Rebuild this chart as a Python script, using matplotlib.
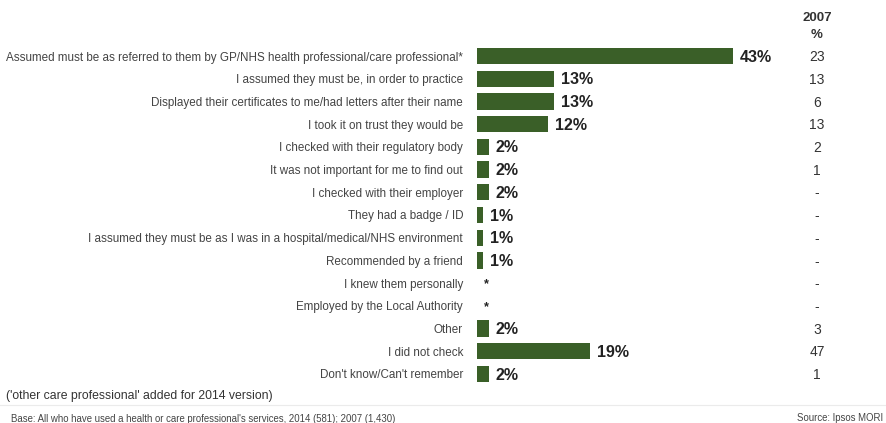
import numpy as np
import matplotlib
matplotlib.use("Agg")
import matplotlib.pyplot as plt
from matplotlib.transforms import blended_transform_factory, offset_copy

plt.rcParams['font.family'] = ['Liberation Sans', 'DejaVu Sans']

categories = [
    "Assumed must be as referred to them by GP/NHS health professional/care professional*",
    "I assumed they must be, in order to practice",
    "Displayed their certificates to me/had letters after their name",
    "I took it on trust they would be",
    "I checked with their regulatory body",
    "It was not important for me to find out",
    "I checked with their employer",
    "They had a badge / ID",
    "I assumed they must be as I was in a hospital/medical/NHS environment",
    "Recommended by a friend",
    "I knew them personally",
    "Employed by the Local Authority",
    "Other",
    "I did not check",
    "Don't know/Can't remember",
]
# 2014 shares (%); nan marks values below 0.5% shown as "*"
values_2014 = [43, 13, 13, 12, 2, 2, 2, 1, 1, 1, np.nan, np.nan, 2, 19, 2]
labels_2007 = ["23", "13", "6", "13", "2", "1", "-", "-", "-", "-", "-", "-", "3", "47", "1"]

W, H = 886, 423
fig = plt.figure(figsize=(W / 100, H / 100), dpi=100)

n = len(categories)
row_h = 22.71
top_px = 56 - row_h / 2
left_px = 477
ax = fig.add_axes([left_px / W, 1 - (top_px + n * row_h) / H,
                   (W - left_px) / W, n * row_h / H])
px_per_pct = 5.95
ax.set_xlim(0, (W - left_px) / px_per_pct)
ax.set_ylim(n - 0.5, -0.5)

y = np.arange(n)
vals = np.array(values_2014, dtype=float)
bar_color = "#3a5f28"
ax.barh(y, np.nan_to_num(vals), height=0.72, color=bar_color, edgecolor="none")

for yi, v in zip(y, vals):
    tr = offset_copy(ax.transData, fig=fig, x=7, y=0, units='dots')
    if np.isnan(v):
        ax.text(0, yi + 0.05, "*", transform=tr, ha='left', va='center',
                fontsize=9, fontweight='bold', color="#222222")
    else:
        ax.text(v, yi + 0.05, f"{v:.0f}%", transform=tr, ha='left', va='center',
                fontsize=11.5, fontweight='bold', color="#222222")

ax.set_yticks(y)
ax.set_yticklabels(categories, fontsize=8.4, color="#444444")
ax.tick_params(axis='y', length=0, pad=10)
ax.set_xticks([])
for s in ax.spines.values():
    s.set_visible(False)

# 2007 comparison column
col_tr = blended_transform_factory(fig.transFigure, ax.transData)
for yi, lab in zip(y, labels_2007):
    ax.text(817 / W, yi + 0.05, lab, transform=col_tr, ha='center', va='center',
            fontsize=10, color="#333333")
fig.text(817 / W, 1 - 18 / H, "2007", ha='center', va='center',
         fontsize=9.5, fontweight='bold', color="#333333")
fig.text(817 / W, 1 - 35 / H, "%", ha='center', va='center',
         fontsize=9.5, fontweight='bold', color="#333333")

# footnotes
fig.text(6 / W, 1 - 396 / H, "('other care professional' added for 2014 version)",
         ha='left', va='center', fontsize=8.8, color="#333333")
fig.add_artist(plt.Line2D([0, 1], [1 - 405 / H, 1 - 405 / H],
                          transform=fig.transFigure, color="#ebebeb", lw=0.8))
fig.text(11 / W, 1 - 419 / H,
         "Base: All who have used a health or care professional's services, 2014 (581); 2007 (1,430)",
         ha='left', va='center', fontsize=6.9, color="#444444")
fig.text(883 / W, 1 - 418 / H, "Source: Ipsos MORI",
         ha='right', va='center', fontsize=6.9, color="#444444")

fig.savefig("out.png", dpi=100)
